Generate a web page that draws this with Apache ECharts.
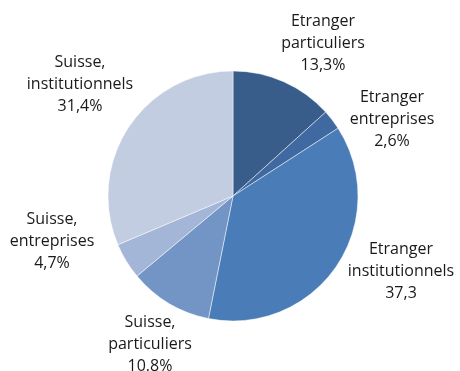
<!DOCTYPE html>
<html>
<head>
<meta charset="utf-8">
<script src="https://cdn.jsdelivr.net/npm/echarts@6/dist/echarts.min.js"></script>
<style>
  html, body { margin: 0; padding: 0; background: #fff; }
  #chart { width: 460px; height: 371px; }
</style>
</head>
<body>
<div id="chart"></div>
<script>
// Segments, clockwise from 12 o'clock
const categories = [
  'Etranger\nparticuliers',
  'Etranger\nentreprises',
  'Etranger\ninstitutionnels',
  'Suisse,\nparticuliers',
  'Suisse,\nentreprises',
  'Suisse,\ninstitutionnels'
];
const values = [13.3, 2.6, 37.3, 10.8, 4.7, 31.4];
const valueTexts = ['13,3%', '2,6%', '37,3', '10.8%', '4,7%', '31,4%'];
const colors = ['#385d8a', '#4169a1', '#4a7cb7', '#7395c6', '#a4b6d7', '#c2cde2'];

// Where each label block is centred
const labelCentres = [
  [323, 43], [392, 119], [401, 271], [150, 344], [52, 241], [80, 84]
];

const chart = echarts.init(document.getElementById('chart'));
chart.setOption({
  animation: false,
  series: [{
    type: 'pie',
    center: [233, 196],
    radius: 125,
    startAngle: 90,
    clockwise: true,
    data: categories.map((name, i) => ({
      name: name,
      value: values[i],
      itemStyle: { color: colors[i] },
      label: { formatter: name + '\n' + valueTexts[i] }
    })),
    itemStyle: { borderColor: 'rgba(255,255,255,0.6)', borderWidth: 0.8 },
    label: {
      show: true,
      position: 'outside',
      fontFamily: 'Open Sans',
      fontSize: 16,
      lineHeight: 22,
      color: '#1a1a1a',
      align: 'center',
      overflow: 'none',
      width: 200
    },
    labelLine: { show: false },
    labelLayout: function (p) {
      const c = labelCentres[p.dataIndex];
      return { x: c[0], y: c[1], align: 'center', verticalAlign: 'middle', hideOverlap: false, moveOverlap: false };
    },
    emphasis: { disabled: true }
  }]
});
</script>
</body>
</html>
